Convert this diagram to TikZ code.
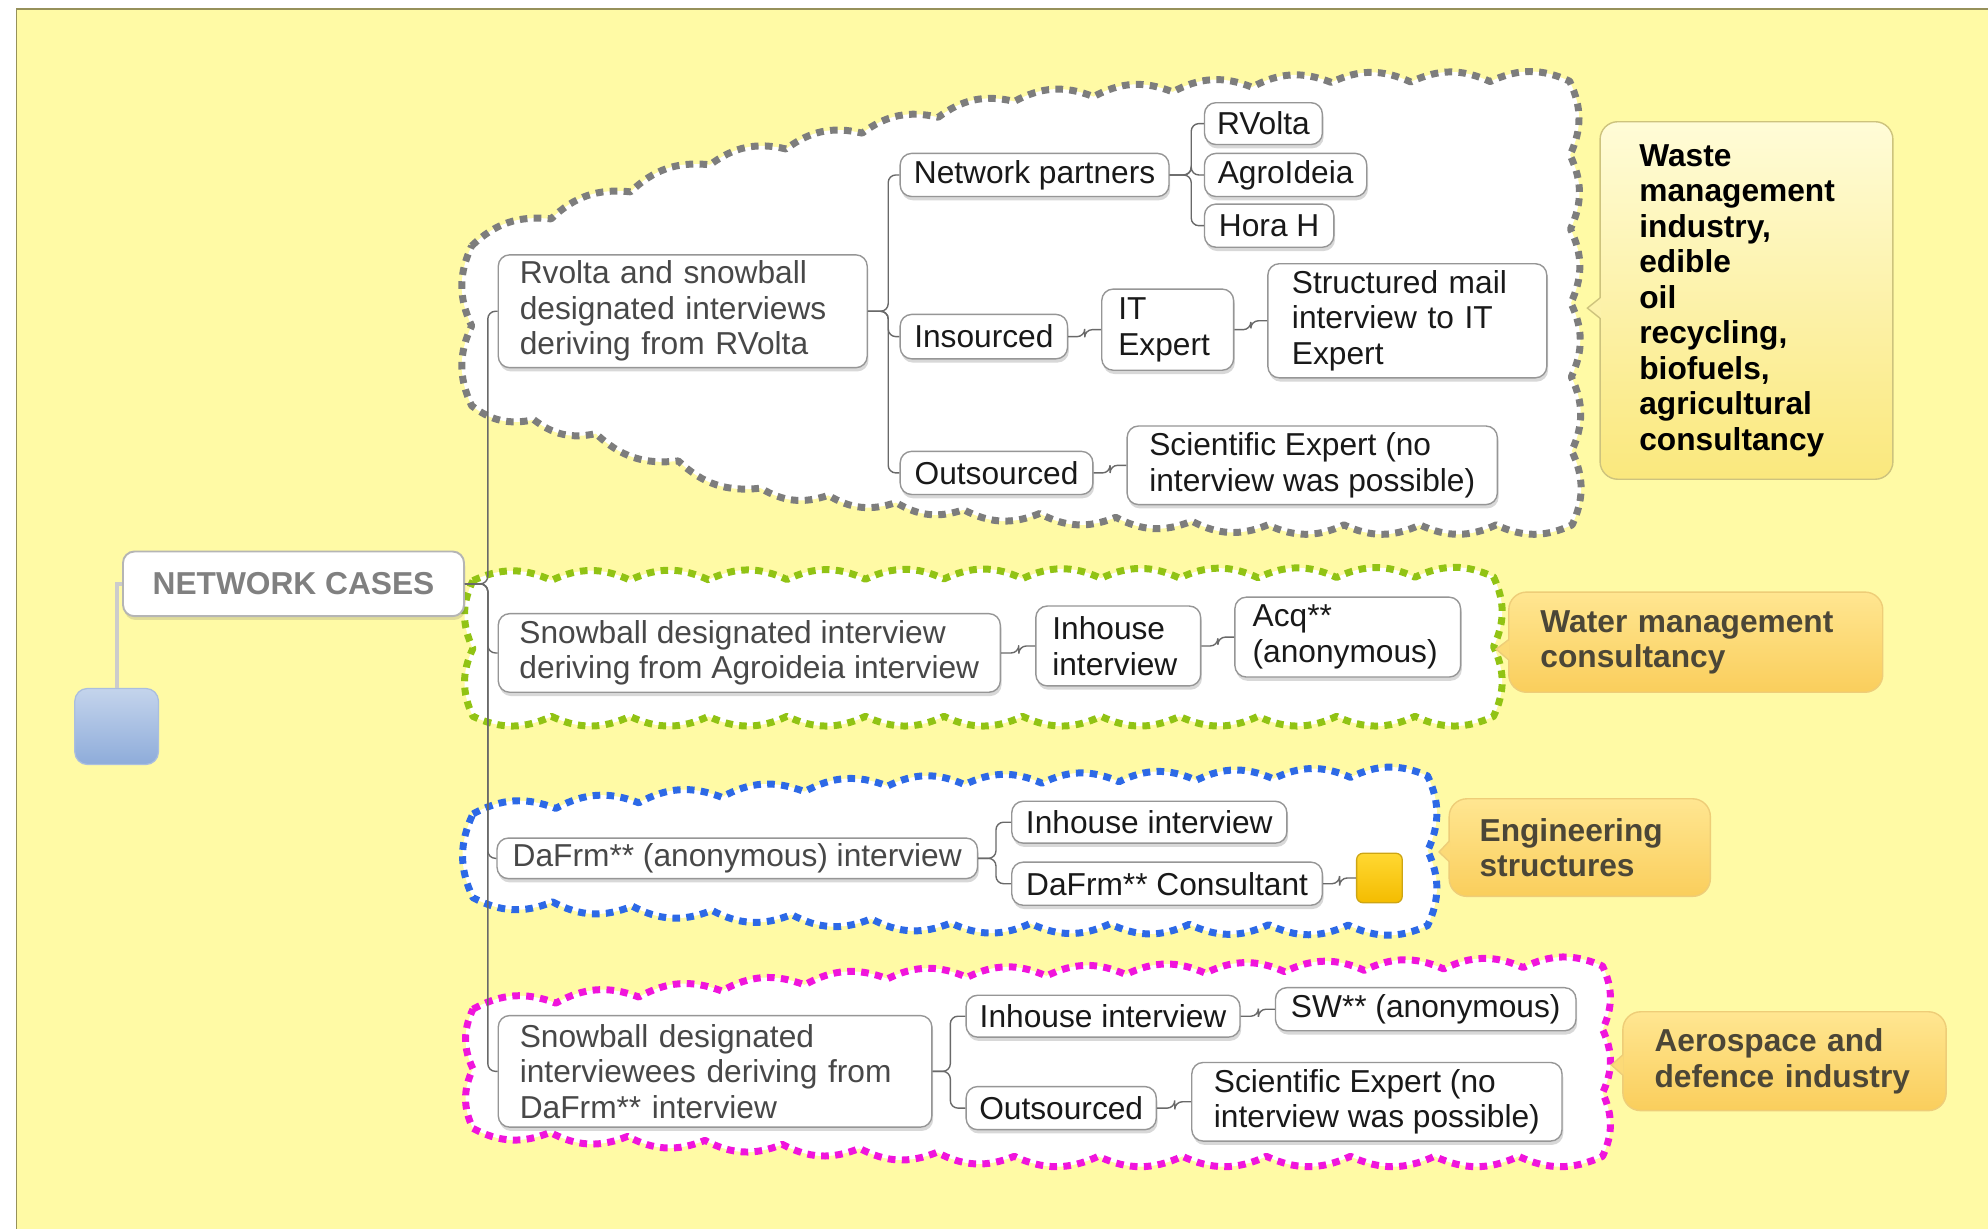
\documentclass[tikz,border=0pt]{standalone}
\usepackage{fontspec}
\setmainfont{Liberation Sans}
\usetikzlibrary{shadows,calc}
\definecolor{bgyellow}{RGB}{255,250,165}
\definecolor{framecol}{RGB}{150,145,90}
\definecolor{conncol}{RGB}{105,105,105}
\definecolor{boxborder}{RGB}{150,150,150}
\definecolor{txtone}{RGB}{72,72,72}
\definecolor{txttwo}{RGB}{25,25,25}
\definecolor{cgray}{RGB}{125,125,125}
\definecolor{cgreen}{RGB}{145,195,20}
\definecolor{cblue}{RGB}{45,105,230}
\definecolor{cmag}{RGB}{240,20,220}
\definecolor{wtop}{RGB}{255,252,215}
\definecolor{wbot}{RGB}{250,232,125}
\definecolor{wbord}{RGB}{205,195,125}
\definecolor{otop}{RGB}{255,230,145}
\definecolor{obot}{RGB}{250,206,92}
\definecolor{obord}{RGB}{238,205,120}
\definecolor{labtxt}{RGB}{75,70,55}
\newcommand\scal[3]{\foreach \i in {1,...,#3} { to[bend left=25] ($(#1)!\i/#3!(#2)$) }}
\begin{document}
\begin{tikzpicture}[x=1pt,y=-1pt,
  conn/.style={draw=conncol, line width=1.1pt, rounded corners=6pt},
  box/.style={draw=boxborder, line width=1.1pt, fill=white, rounded corners=9pt,
    font=\fontsize{25}{28}\selectfont, align=left, inner sep=0pt, text=txttwo,
    drop shadow={shadow xshift=1pt, shadow yshift=-3pt, opacity=0.25, fill=black!60}},
  boxone/.style={box, text=txtone},
  cloudline/.style={fill=white, draw=#1, line width=5.5pt, dash pattern=on 6pt off 5pt, line join=round},
  lab/.style={draw=obord, line width=1.1pt, top color=otop, bottom color=obot, rounded corners=14pt,
    font=\bfseries\fontsize{25}{28}\selectfont, align=left, inner ysep=0pt, text=labtxt},
]
\useasboundingbox (0,0) rectangle (1568,969);
\fill[white] (0,0) rectangle (1568,969);
\fill[bgyellow] (13,7) rectangle (1568,969);
\draw[framecol, line width=1.5pt] (13,969) -- (13,7) -- (1568,7);

% cloud outlines (corner points)
\coordinate (g1) at (372,194);
\coordinate (g2) at (560,130);
\coordinate (g3) at (800,80);
\coordinate (g4) at (1050,65);
\coordinate (g5) at (1238,64);
\coordinate (g6) at (1240,414);
\coordinate (g7) at (1000,414);
\coordinate (g8) at (760,402);
\coordinate (g9) at (600,385);
\coordinate (g10) at (470,342);
\coordinate (g11) at (372,320);
\path[cloudline=cgray] (g1) \scal{g1}{g2}{3} \scal{g2}{g3}{4} \scal{g3}{g4}{4} \scal{g4}{g5}{3}
  \scal{g5}{g6}{6} \scal{g6}{g7}{4} \scal{g7}{g8}{4} \scal{g8}{g9}{3} \scal{g9}{g10}{2}
  \scal{g10}{g11}{2} \scal{g11}{g1}{2} -- cycle;

\coordinate (e1) at (373,458);
\coordinate (e2) at (1178,455);
\coordinate (e3) at (1178,565);
\coordinate (e4) at (373,565);
\path[cloudline=cgreen] (e1) \scal{e1}{e2}{13} \scal{e2}{e3}{2} \scal{e3}{e4}{13} \scal{e4}{e1}{2} -- cycle;

\coordinate (b1) at (373,642);
\coordinate (b2) at (700,620);
\coordinate (b3) at (1126,612);
\coordinate (b4) at (1126,730);
\coordinate (b5) at (750,728);
\coordinate (b6) at (373,708);
\path[cloudline=cblue] (b1) \scal{b1}{b2}{5} \scal{b2}{b3}{7} \scal{b3}{b4}{2} \scal{b4}{b5}{6}
  \scal{b5}{b6}{6} \scal{b6}{b1}{1} -- cycle;

\coordinate (m1) at (373,796);
\coordinate (m2) at (700,772);
\coordinate (m3) at (1264,762);
\coordinate (m4) at (1264,912);
\coordinate (m5) at (800,912);
\coordinate (m6) at (373,890);
\path[cloudline=cmag] (m1) \scal{m1}{m2}{5} \scal{m2}{m3}{9} \scal{m3}{m4}{3} \scal{m4}{m5}{7}
  \scal{m5}{m6}{7} \scal{m6}{m1}{2} -- cycle;

% root
\node[draw=boxborder!70, line width=1.5pt, rounded corners=9pt, fill=white, minimum width=269pt, minimum height=51pt,
  font=\bfseries\fontsize{25}{28}\selectfont, text=black!50, inner sep=0pt,
  drop shadow={shadow xshift=1pt, shadow yshift=-3pt, opacity=0.2, fill=black!60}] (nc) at (231.5,460.5) {NETWORK CASES};
\node[draw={rgb,255:red,170;green,190;blue,222}, line width=1pt, rounded corners=10pt,
  top color={rgb,255:red,196;green,212;blue,236}, bottom color={rgb,255:red,142;green,172;blue,218},
  minimum width=66pt, minimum height=60pt, inner sep=0pt] (root) at (92,573) {};
\draw[draw=black!20, line width=3pt] (nc.west) -| (root.north);

% gray group
\node[boxone, text width=257pt, inner xsep=17pt, minimum height=89pt] (rv) at (538.5,245.5) {Rvolta and snowball\\designated interviews\\deriving from RVolta};
\node[box, minimum width=212pt, minimum height=34pt] (np) at (816,138) {Network partners};
\node[box, minimum width=93pt, minimum height=33pt] (rvl) at (996.5,97.5) {RVolta};
\node[box, minimum width=128pt, minimum height=34pt] (agr) at (1014,138) {AgroIdeia};
\node[box, minimum width=102pt, minimum height=34pt] (hora) at (1001,178) {Hora H};
\node[box, minimum width=132pt, minimum height=35pt] (ins) at (776,265.5) {Insourced};
\node[box, text width=78pt, inner xsep=13pt, minimum height=64pt] (ite) at (921,260) {IT\\Expert};
\node[box, text width=182pt, inner xsep=19pt, minimum height=90pt] (smail) at (1110,253) {Structured mail\\interview to IT\\Expert};
\node[box, minimum width=152pt, minimum height=34pt] (outs) at (786,373) {Outsourced};
\node[box, minimum width=292pt, minimum height=62pt] (sci) at (1035,367) {Scientific Expert (no\\interview was possible)};

% green group
\node[boxone, minimum width=396pt, minimum height=62pt] (sba) at (591,515) {Snowball designated interview\\deriving from Agroideia interview};
\node[box, text width=104pt, inner xsep=13pt, minimum height=63pt] (inha) at (882,509.5) {Inhouse\\interview};
\node[box, text width=150pt, inner xsep=14pt, minimum height=63pt] (acq) at (1063,502.5) {Acq**\\(anonymous)};

% blue group
\node[boxone, minimum width=379pt, minimum height=32pt] (daf) at (581.5,677) {DaFrm** (anonymous) interview};
\node[box, minimum width=217pt, minimum height=33pt] (inhb) at (906.5,648.5) {Inhouse interview};
\node[box, minimum width=245pt, minimum height=34pt] (dafc) at (920.5,697) {DaFrm** Consultant};
\node[draw={rgb,255:red,205;green,165;blue,20}, line width=1pt, rounded corners=5pt,
  top color={rgb,255:red,255;green,216;blue,50}, bottom color={rgb,255:red,244;green,188;blue,0},
  minimum width=36pt, minimum height=39pt, inner sep=0pt] (sq) at (1088,692.5) {};

% magenta group
\node[boxone, text width=308pt, inner xsep=17pt, minimum height=88pt] (sbd) at (564,845) {Snowball designated\\interviewees deriving from\\DaFrm** interview};
\node[box, minimum width=216pt, minimum height=33pt] (inhd) at (870,801.5) {Inhouse interview};
\node[box, minimum width=237pt, minimum height=34pt] (sw) at (1124.5,796) {SW** (anonymous)};
\node[box, minimum width=150pt, minimum height=34pt] (outd) at (837,874) {Outsourced};
\node[box, minimum width=292pt, minimum height=62pt] (scid) at (1086,869) {Scientific Expert (no\\interview was possible)};

% connectors
\foreach \c in {rv,sba,daf,sbd} \draw[conn] (nc.east) -- ++(18,0) |- (\c.west);
\foreach \c in {np,ins,outs} \draw[conn] (rv.east) -- ++(16,0) |- (\c.west);
\foreach \c in {rvl,agr,hora} \draw[conn] (np.east) -- ++(17,0) |- (\c.west);
\draw[conn] (ins.east) -- ++(13,0) |- (ite.west);
\draw[conn] (ite.east) -- ++(13,0) |- (smail.west);
\draw[conn] (outs.east) -- ++(13,0) |- (sci.west);
\draw[conn] (sba.east) -- ++(14,0) |- (inha.west);
\draw[conn] (inha.east) -- ++(13,0) |- (acq.west);
\foreach \c in {inhb,dafc} \draw[conn] (daf.east) -- ++(14,0) |- (\c.west);
\draw[conn] (dafc.east) -- ++(13,0) |- (sq.west);
\foreach \c in {inhd,outd} \draw[conn] (sbd.east) -- ++(14,0) |- (\c.west);
\draw[conn] (inhd.east) -- ++(14,0) |- (sw.west);
\draw[conn] (outd.east) -- ++(14,0) |- (scid.west);

% labels
\node[lab, draw=wbord, top color=wtop, bottom color=wbot, text=black, text width=169pt, inner xsep=31pt, minimum height=282pt] (lwaste) at (1377.5,237)
  {Waste\\management\\industry,\\edible\\oil\\recycling,\\biofuels,\\agricultural\\consultancy};
\node[lab, text width=245pt, inner xsep=25pt, minimum height=79pt] (lwater) at (1337.5,506.5) {Water management\\consultancy};
\node[lab, text width=158pt, inner xsep=24pt, minimum height=77pt] (leng) at (1246,668.5) {Engineering\\structures};
\node[lab, text width=205pt, inner xsep=25pt, minimum height=78pt] (laero) at (1407.5,837) {Aerospace and\\defence industry};

% callout pointers
\coordinate (pw) at (1252,243);
\fill[wtop!50!wbot] ($(lwaste.west)+(1.2,-2)$) -- (pw) -- ($(lwaste.west)+(1.2,14)$) -- cycle;
\draw[wbord, line width=1.1pt] ($(lwaste.west)+(0.5,-2)$) -- (pw) -- ($(lwaste.west)+(0.5,14)$);
\coordinate (pa) at (1180,512);
\fill[otop!50!obot] ($(lwater.west)+(1.2,-2)$) -- (pa) -- ($(lwater.west)+(1.2,14)$) -- cycle;
\draw[obord, line width=1.1pt] ($(lwater.west)+(0.5,-2)$) -- (pa) -- ($(lwater.west)+(0.5,14)$);
\coordinate (pe) at (1135,672);
\fill[otop!50!obot] ($(leng.west)+(1.2,-5)$) -- (pe) -- ($(leng.west)+(1.2,11)$) -- cycle;
\draw[obord, line width=1.1pt] ($(leng.west)+(0.5,-5)$) -- (pe) -- ($(leng.west)+(0.5,11)$);
\coordinate (pr) at (1271,840);
\fill[otop!50!obot] ($(laero.west)+(1.2,-5)$) -- (pr) -- ($(laero.west)+(1.2,11)$) -- cycle;
\draw[obord, line width=1.1pt] ($(laero.west)+(0.5,-5)$) -- (pr) -- ($(laero.west)+(0.5,11)$);
\end{tikzpicture}
\end{document}
